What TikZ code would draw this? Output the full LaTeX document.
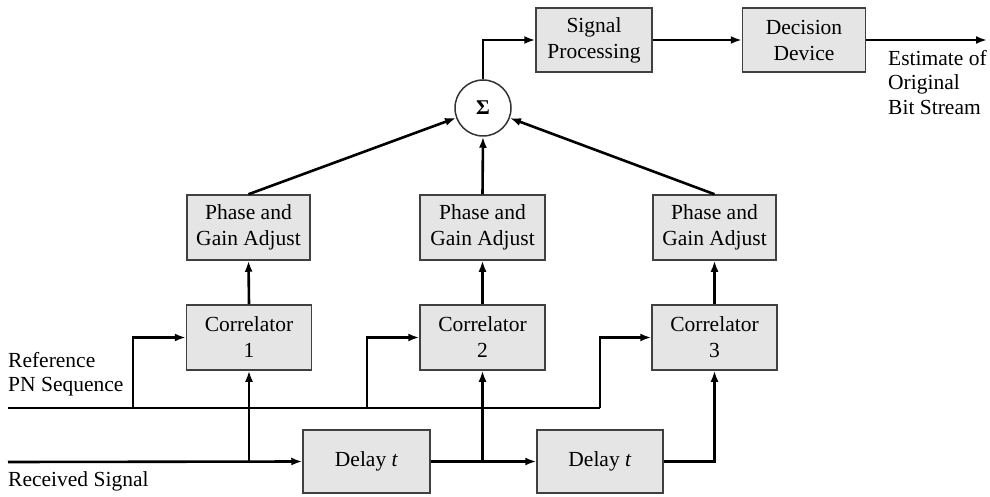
\documentclass[tikz,border=0pt]{standalone}
\usepackage{fontspec}
\setmainfont{Liberation Serif}
\usetikzlibrary{arrows.meta}
\begin{document}
\begin{tikzpicture}[x=1pt,y=-1pt,
  blk/.style={draw=black!75,line width=1.5pt,fill=black!10,align=center,inner sep=0pt,
    minimum height=64pt,font=\fontsize{21.5}{26}\selectfont},
  sumc/.style={draw=black!80,line width=1.5pt,circle,fill=white,minimum size=56pt,inner sep=0pt,
    font=\fontsize{21}{22}\selectfont\bfseries},
  conn/.style={line width=2.6pt,-{Latex[length=11pt,width=8pt]}},
  lbl/.style={anchor=north west,align=left,inner sep=0pt,font=\fontsize{21.5}{24.5}\selectfont}]
\useasboundingbox (0,0) rectangle (990,497);
\fill[white] (0,0) rectangle (990,497);
% nodes
\node[blk,minimum width=116pt] (sp) at (594,40) {Signal\\Processing};
\node[blk,minimum width=123pt] (dd) at (804,40) {Decision\\Device};
\node[sumc] (sig) at (483,108) {Σ};
\node[blk,minimum width=123pt,minimum height=65pt] (pg1) at (248.5,227.5) {Phase and\\Gain Adjust};
\node[blk,minimum width=125pt,minimum height=65pt] (pg2) at (482.5,227.5) {Phase and\\Gain Adjust};
\node[blk,minimum width=123pt,minimum height=65pt] (pg3) at (714.5,227.5) {Phase and\\Gain Adjust};
\node[blk,minimum width=125pt,minimum height=65pt] (cr1) at (249,337.5) {Correlator\\1};
\node[blk,minimum width=125pt,minimum height=65pt] (cr2) at (482.5,337.5) {Correlator\\2};
\node[blk,minimum width=125pt,minimum height=65pt] (cr3) at (714.5,337.5) {Correlator\\3};
\node[blk,minimum width=127pt,minimum height=63pt] (dl1) at (366.5,461.5) {Delay \textit{t}};
\node[blk,minimum width=126pt,minimum height=63pt] (dl2) at (600,461.5) {Delay \textit{t}};
\node[lbl] (est) at (888,50) {Estimate of\\Original\\Bit Stream};
\node[lbl] (ref) at (8,352) {Reference\\PN Sequence};
\node[lbl] (rec) at (8,471) {Received Signal};
\coordinate (refin) at (8,408);
\coordinate (recin) at (8,462);
\coordinate (out) at (987,40);
\coordinate (b1) at (133,408);
\coordinate (b2) at (367,408);
\coordinate (b3) at (600,408);
% connectors
\draw[line width=2.6pt] (refin) -- (b3);
\draw[conn] (b1) |- (cr1.west);
\draw[conn] (b2) |- (cr2.west);
\draw[conn] (b3) |- (cr3.west);
\draw[conn] (recin) -- (dl1.west);
\draw[conn] (cr1.south |- recin) -- (cr1.south);
\draw[conn] (dl1.east) -- (dl2.west);
\draw[conn] (cr2.south |- dl1.east) -- (cr2.south);
\draw[conn] (dl2.east) -| (cr3.south);
\draw[conn] (cr1.north) -- (pg1.south);
\draw[conn] (cr2.north) -- (pg2.south);
\draw[conn] (cr3.north) -- (pg3.south);
\draw[conn] (pg1.north) -- (sig);
\draw[conn] (pg2.north) -- (sig.south);
\draw[conn] (pg3.north) -- (sig);
\draw[conn] (sig.north) |- (sp.west);
\draw[conn] (sp.east) -- (dd.west);
\draw[conn] (dd.east) -- (out);
\end{tikzpicture}
\end{document}
